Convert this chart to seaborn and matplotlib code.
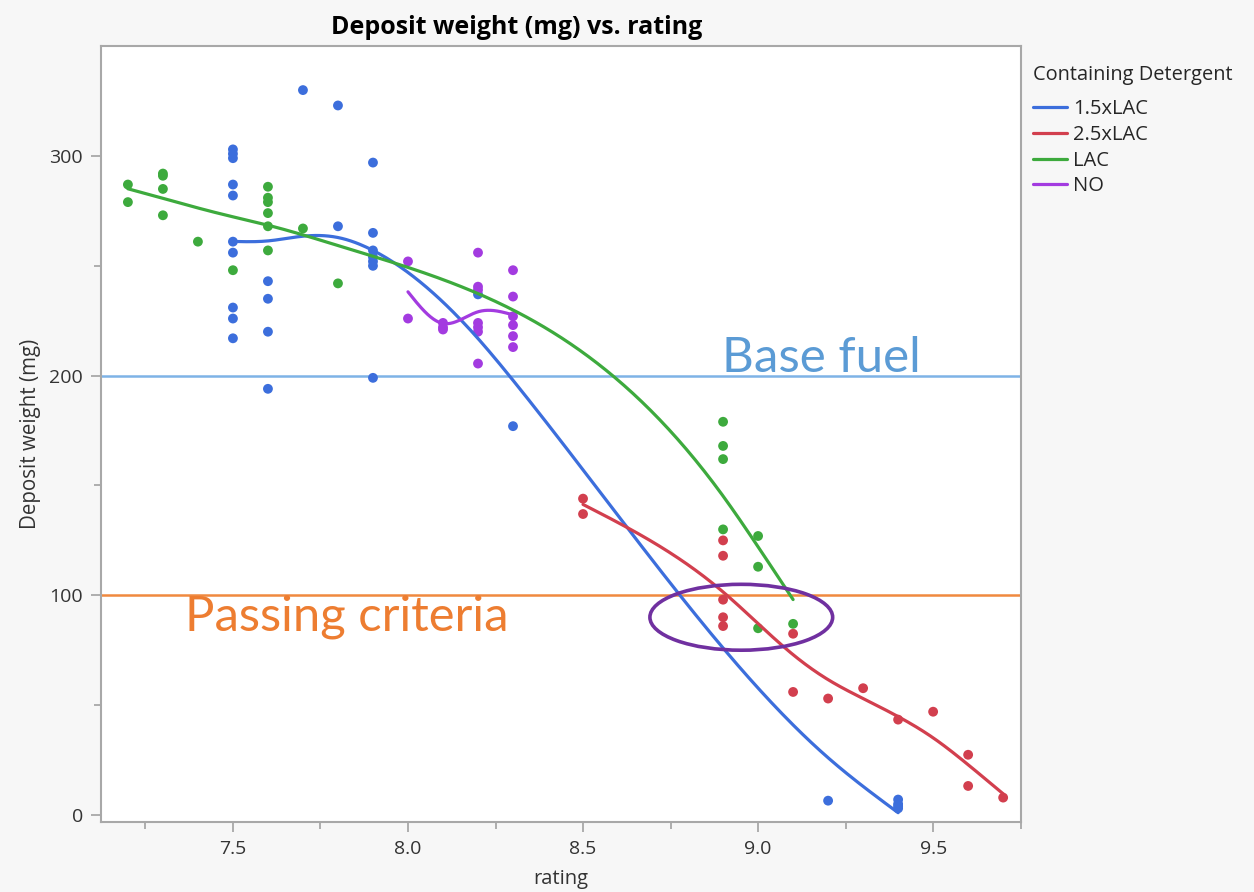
import numpy as np
import pandas as pd
import matplotlib
matplotlib.use("Agg")
import matplotlib.pyplot as plt
from matplotlib.patches import Ellipse
import seaborn as sns

# ---- data -------------------------------------------------------------
groups = ["1.5xLAC", "2.5xLAC", "LAC", "NO"]

rating_15x = [7.5] * 10 + [7.6] * 4 + [7.7] + [7.8] * 2 + [7.9] * 7 + [8.2, 8.3, 9.2] + [9.4] * 4
deposit_15x = [303, 301, 299, 287, 282, 261, 256, 231, 226, 217,
               243, 235, 220, 194,
               330,
               323, 268,
               297, 265, 257, 254, 252, 250, 199,
               237, 177, 6.5,
               7, 5, 4, 3]

rating_25x = [8.5, 8.5] + [8.9] * 5 + [9.1, 9.1, 9.2, 9.3, 9.4, 9.5, 9.6, 9.6, 9.7]
deposit_25x = [144, 137,
               125, 118, 98, 90, 86,
               82.5, 56, 53, 57.7, 43.4, 47, 27.4, 13.2, 7.9]

rating_lac = [7.2] * 2 + [7.3] * 4 + [7.4, 7.5] + [7.6] * 6 + [7.7, 7.8] + [8.9] * 4 + [9.0] * 3 + [9.1]
deposit_lac = [287, 279,
               292, 291, 285, 273,
               261, 248,
               286, 281, 279, 274, 268, 257,
               267, 242,
               179, 168, 162, 130,
               127, 113, 85,
               87]

rating_no = [8.0] * 2 + [8.1] * 3 + [8.2] * 7 + [8.3] * 6
deposit_no = [252, 226,
              224, 222, 221,
              256, 240.5, 239, 224, 222, 220, 205.5,
              248, 236, 227, 223, 218, 213]

base_fuel = 200
passing_criteria = 100

palette = {"1.5xLAC": "#3C6EDC", "2.5xLAC": "#D23F4E",
           "LAC": "#3DAA3D", "NO": "#A33BE0"}
smoothness = {"1.5xLAC": 0.05, "2.5xLAC": 0.05, "LAC": 0.05, "NO": 0.05}


def smoothing_spline(x, y, lam, n_eval=300):
    """Cubic smoothing spline (Reinsch form) on standardized x."""
    x = np.asarray(x, float)
    y = np.asarray(y, float)
    mu, sd = x.mean(), x.std(ddof=1)
    z = (x - mu) / sd
    knots, inv = np.unique(z, return_inverse=True)
    w = np.bincount(inv).astype(float)
    ybar = np.bincount(inv, weights=y) / w
    n = len(knots)
    h = np.diff(knots)
    Q = np.zeros((n, n - 2))
    R = np.zeros((n - 2, n - 2))
    for j in range(1, n - 1):
        Q[j - 1, j - 1] = 1 / h[j - 1]
        Q[j, j - 1] = -1 / h[j - 1] - 1 / h[j]
        Q[j + 1, j - 1] = 1 / h[j]
        R[j - 1, j - 1] = (h[j - 1] + h[j]) / 3
        if j < n - 2:
            R[j - 1, j] = R[j, j - 1] = h[j] / 6
    K = Q @ np.linalg.solve(R, Q.T)
    g = np.linalg.solve(np.diag(w) + lam * K, w * ybar)
    gamma = np.zeros(n)
    gamma[1:-1] = np.linalg.solve(R, Q.T @ g)
    t = np.linspace(knots[0], knots[-1], n_eval)
    i = np.clip(np.searchsorted(knots, t, side="right") - 1, 0, n - 2)
    hi = h[i]
    a = t - knots[i]
    b = knots[i + 1] - t
    val = (a * g[i + 1] + b * g[i]) / hi - a * b / 6 * (
        (1 + a / hi) * gamma[i + 1] + (1 + b / hi) * gamma[i])
    return t * sd + mu, val


points = pd.concat([
    pd.DataFrame({"rating": r, "deposit": d, "detergent": g})
    for g, r, d in zip(groups,
                       [rating_15x, rating_25x, rating_lac, rating_no],
                       [deposit_15x, deposit_25x, deposit_lac, deposit_no])
], ignore_index=True)

curves = []
for g, sub in points.groupby("detergent", sort=False):
    xs, ys = smoothing_spline(sub["rating"], sub["deposit"], smoothness[g])
    curves.append(pd.DataFrame({"rating": xs, "deposit": ys, "detergent": g}))
curves = pd.concat(curves, ignore_index=True)

# ---- figure -------------------------------------------------------------
sns.set_theme(style="white")
plt.rcParams["font.family"] = ["Open Sans", "DejaVu Sans"]

fig = plt.figure(figsize=(12.54, 8.92), dpi=100, facecolor="#F7F7F7")
ax = fig.add_axes([0.0805, 0.0785, 0.7337, 0.8700])
ax.set_facecolor("white")

ax.axhline(base_fuel, color="#7EB3E6", lw=1.8, zorder=1)
ax.axhline(passing_criteria, color="#F0893F", lw=1.8, zorder=1)

sns.scatterplot(data=points, x="rating", y="deposit", hue="detergent",
                hue_order=groups, palette=palette, s=50, linewidth=0,
                legend=False, ax=ax, zorder=3)
sns.lineplot(data=curves, x="rating", y="deposit", hue="detergent",
             hue_order=groups, palette=palette, lw=2.3, sort=False,
             estimator=None, ax=ax, zorder=4)

ax.add_patch(Ellipse((8.952, 90), width=0.522, height=30, fill=False,
                     edgecolor="#7030A0", lw=2.6, zorder=5))

ax.text(8.897, 201.5, "Base fuel", color="#5B9BD5", fontsize=35.5,
        family="Lato", ha="left", va="baseline", zorder=2)
ax.text(7.363, 84, "Passing criteria", color="#ED7D31", fontsize=35.3,
        family="Lato", ha="left", va="baseline", zorder=2)

ax.set_xlim(7.123, 9.751)
ax.set_ylim(-3.2, 350.1)
ax.set_xticks([7.5, 8.0, 8.5, 9.0, 9.5])
ax.set_xticklabels(["7.5", "8.0", "8.5", "9.0", "9.5"])
ax.set_xticks([7.25, 7.75, 8.25, 8.75, 9.25, 9.75], minor=True)
ax.set_yticks([0, 100, 200, 300])
ax.set_yticks([50, 150, 250], minor=True)
ax.tick_params(which="both", direction="out", color="#9A9A9A",
               labelcolor="#333333", labelsize=14, bottom=True, left=True)
ax.tick_params(which="major", length=7, width=1.1, pad=6)
ax.tick_params(which="minor", length=5, width=1.1)
for side, sp in ax.spines.items():
    sp.set_visible(True)
    sp.set_color("#A8A8A8")
    sp.set_linewidth(1.5)

ax.set_xlabel("rating", fontsize=14.5, color="#333333", labelpad=8)
ax.set_ylabel("Deposit weight (mg)", fontsize=14.8, color="#333333", labelpad=6)

fig.text(0.412, 0.969, "Deposit weight (mg) vs. rating", fontsize=18,
         fontweight="bold", color="black", ha="center", va="center")

ax.get_legend().remove()
handles, labels = ax.get_lines()[2:6], groups
leg = fig.legend(handles, labels, title="Containing Detergent",
                 loc="upper left", bbox_to_anchor=(0.809, 0.947),
                 frameon=False, fontsize=14.5, title_fontsize=14.4,
                 handlelength=1.7, handletextpad=0.3, labelspacing=0.28,
                 alignment="left")
leg._legend_box.sep += 6
for line in leg.get_lines():
    line.set_linewidth(2.3)

fig.savefig("out.png", dpi=100, facecolor=fig.get_facecolor())
